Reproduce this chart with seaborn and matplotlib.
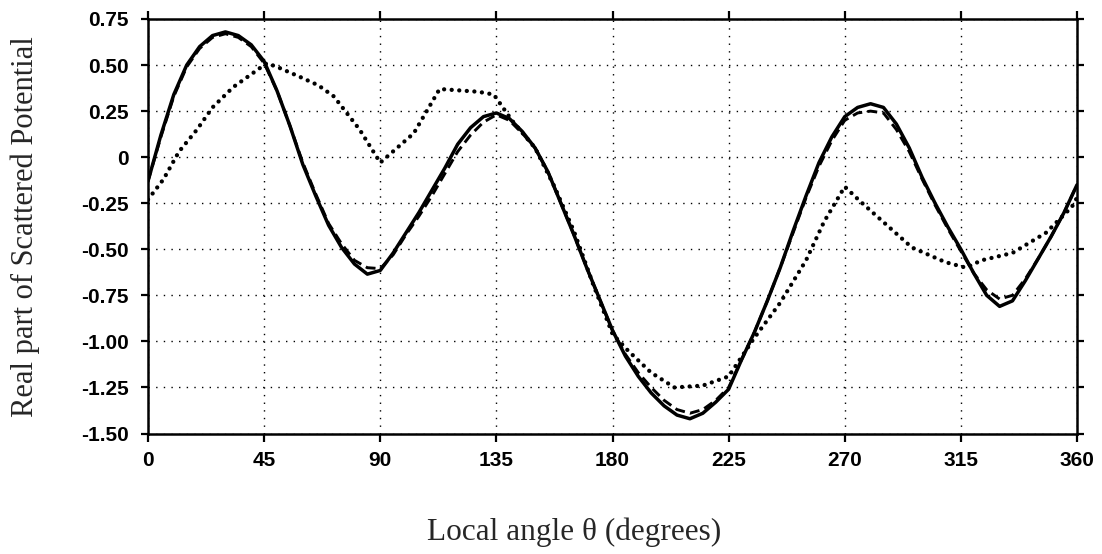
import matplotlib
matplotlib.use("Agg")
import matplotlib.pyplot as plt
import seaborn as sns

# Local angle samples (degrees) for the two smooth solutions
theta = [0, 5, 10, 15, 20, 25, 30, 35, 40, 45, 50, 55, 60, 65, 70, 75, 80,
         85, 90, 95, 100, 105, 110, 115, 120, 125, 130, 135, 140, 145, 150,
         155, 160, 165, 170, 175, 180, 185, 190, 195, 200, 205, 210, 215,
         220, 225, 230, 235, 240, 245, 250, 255, 260, 265, 270, 275, 280,
         285, 290, 295, 300, 305, 310, 315, 320, 325, 330, 335, 340, 345,
         350, 355, 360]

# Reference solution (solid)
exact = [-0.13, 0.12, 0.34, 0.50, 0.60, 0.66, 0.68, 0.66, 0.61, 0.52,
         0.36, 0.17, -0.04, -0.21, -0.37, -0.49, -0.58, -0.635, -0.615,
         -0.52, -0.41, -0.30, -0.18, -0.06, 0.07, 0.16, 0.22, 0.24, 0.21,
         0.14, 0.05, -0.08, -0.25, -0.42, -0.60, -0.77, -0.94, -1.08, -1.19,
         -1.28, -1.35, -1.40, -1.42, -1.39, -1.33, -1.26, -1.10, -0.95,
         -0.78, -0.60, -0.40, -0.21, -0.03, 0.11, 0.22, 0.27, 0.29, 0.27,
         0.18, 0.05, -0.11, -0.25, -0.38, -0.50, -0.63, -0.75, -0.81, -0.78,
         -0.67, -0.55, -0.43, -0.30, -0.15]

# Approximate solution (dashed)
approx = [-0.13, 0.11, 0.33, 0.49, 0.59, 0.65, 0.67, 0.65, 0.60, 0.51,
          0.36, 0.17, -0.03, -0.20, -0.36, -0.47, -0.56, -0.60, -0.605,
          -0.53, -0.42, -0.32, -0.21, -0.09, 0.03, 0.12, 0.19, 0.23, 0.20,
          0.13, 0.05, -0.08, -0.25, -0.42, -0.60, -0.77, -0.94, -1.07, -1.17,
          -1.25, -1.32, -1.37, -1.39, -1.37, -1.32, -1.25, -1.10, -0.95,
          -0.78, -0.60, -0.41, -0.22, -0.05, 0.09, 0.20, 0.24, 0.25, 0.24,
          0.15, 0.03, -0.12, -0.26, -0.39, -0.51, -0.63, -0.72, -0.77, -0.75,
          -0.66, -0.55, -0.43, -0.30, -0.15]

# Coarse solution (dotted)
theta_coarse = [0, 6, 12, 19, 25, 33, 41, 46, 50, 59, 66, 72, 82, 90, 103,
                113, 128, 134, 141, 150, 157.5, 165, 172.5, 180, 186, 195,
                204, 215, 225, 235, 245, 255, 262, 270, 276, 284, 296, 309,
                317, 323, 335, 348, 358, 360]
coarse = [-0.23, -0.12, 0.03, 0.15, 0.27, 0.38, 0.46, 0.51, 0.49, 0.435,
          0.39, 0.33, 0.15, -0.03, 0.13, 0.37, 0.355, 0.34, 0.20, 0.05,
          -0.16, -0.40, -0.69, -0.96, -1.05, -1.17, -1.25, -1.24, -1.19,
          -0.98, -0.79, -0.56, -0.35, -0.16, -0.24, -0.34, -0.49, -0.57,
          -0.60, -0.56, -0.52, -0.41, -0.27, -0.22]

x_ticks = [0, 45, 90, 135, 180, 225, 270, 315, 360]
y_ticks = [0.75, 0.5, 0.25, 0, -0.25, -0.5, -0.75, -1.0, -1.25, -1.5]
y_tick_labels = ["0.75", "0.50", "0.25", "0", "-0.25", "-0.50", "-0.75",
                 "-1.00", "-1.25", "-1.50"]

sns.set_style("white")
plt.rcParams["font.family"] = ["Liberation Sans", "DejaVu Sans"]

fig = plt.figure(figsize=(11.02, 5.54), dpi=100)
ax = fig.add_axes([148 / 1102, 1 - 433.5 / 554, 929 / 1102, 414.5 / 554])

sns.lineplot(x=theta, y=exact, ax=ax, color="black", linewidth=2.5,
             solid_joinstyle="round")
sns.lineplot(x=theta, y=approx, ax=ax, color="black", linewidth=2.1,
             linestyle=(0, (3.4, 1.8)))
sns.lineplot(x=theta_coarse, y=coarse, ax=ax, color="black", linewidth=3.1,
             linestyle=(0, (0.01, 1.75)), dash_capstyle="round")

ax.set_xlim(0, 360)
ax.set_ylim(-1.5, 0.75)
ax.set_xticks(x_ticks)
ax.set_xticklabels([str(v) for v in x_ticks])
ax.set_yticks(y_ticks)
ax.set_yticklabels(y_tick_labels)

ax.grid(True, color="black", linestyle=(0, (1, 4.5)), linewidth=1.0)
for side in ["left", "right", "top", "bottom"]:
    ax.spines[side].set_visible(True)
    ax.spines[side].set_color("black")
    ax.spines[side].set_linewidth(1.8)

ax.tick_params(axis="x", direction="out", length=5.8, width=1.6, pad=7,
               top=True, bottom=True, labelsize=15, colors="black")
ax.tick_params(axis="y", direction="out", length=4.8, width=1.6, pad=9,
               left=True, right=True, labelsize=15, colors="black")
for lbl in ax.get_xticklabels() + ax.get_yticklabels():
    lbl.set_fontweight("bold")

ax.set_xlabel("Local angle θ (degrees)", family=["Liberation Serif", "DejaVu Serif"],
              fontsize=22.5, va="baseline")
ax.xaxis.set_label_coords((574 - 148) / 929, (433.5 - 540) / 414.5)
ax.set_ylabel("Real part of Scattered Potential",
              family=["Liberation Serif", "DejaVu Serif"], fontsize=22,
              va="baseline")
ax.yaxis.set_label_coords((33 - 148) / 929, 0.5)

fig.savefig("out.png", dpi=100, facecolor="white")
